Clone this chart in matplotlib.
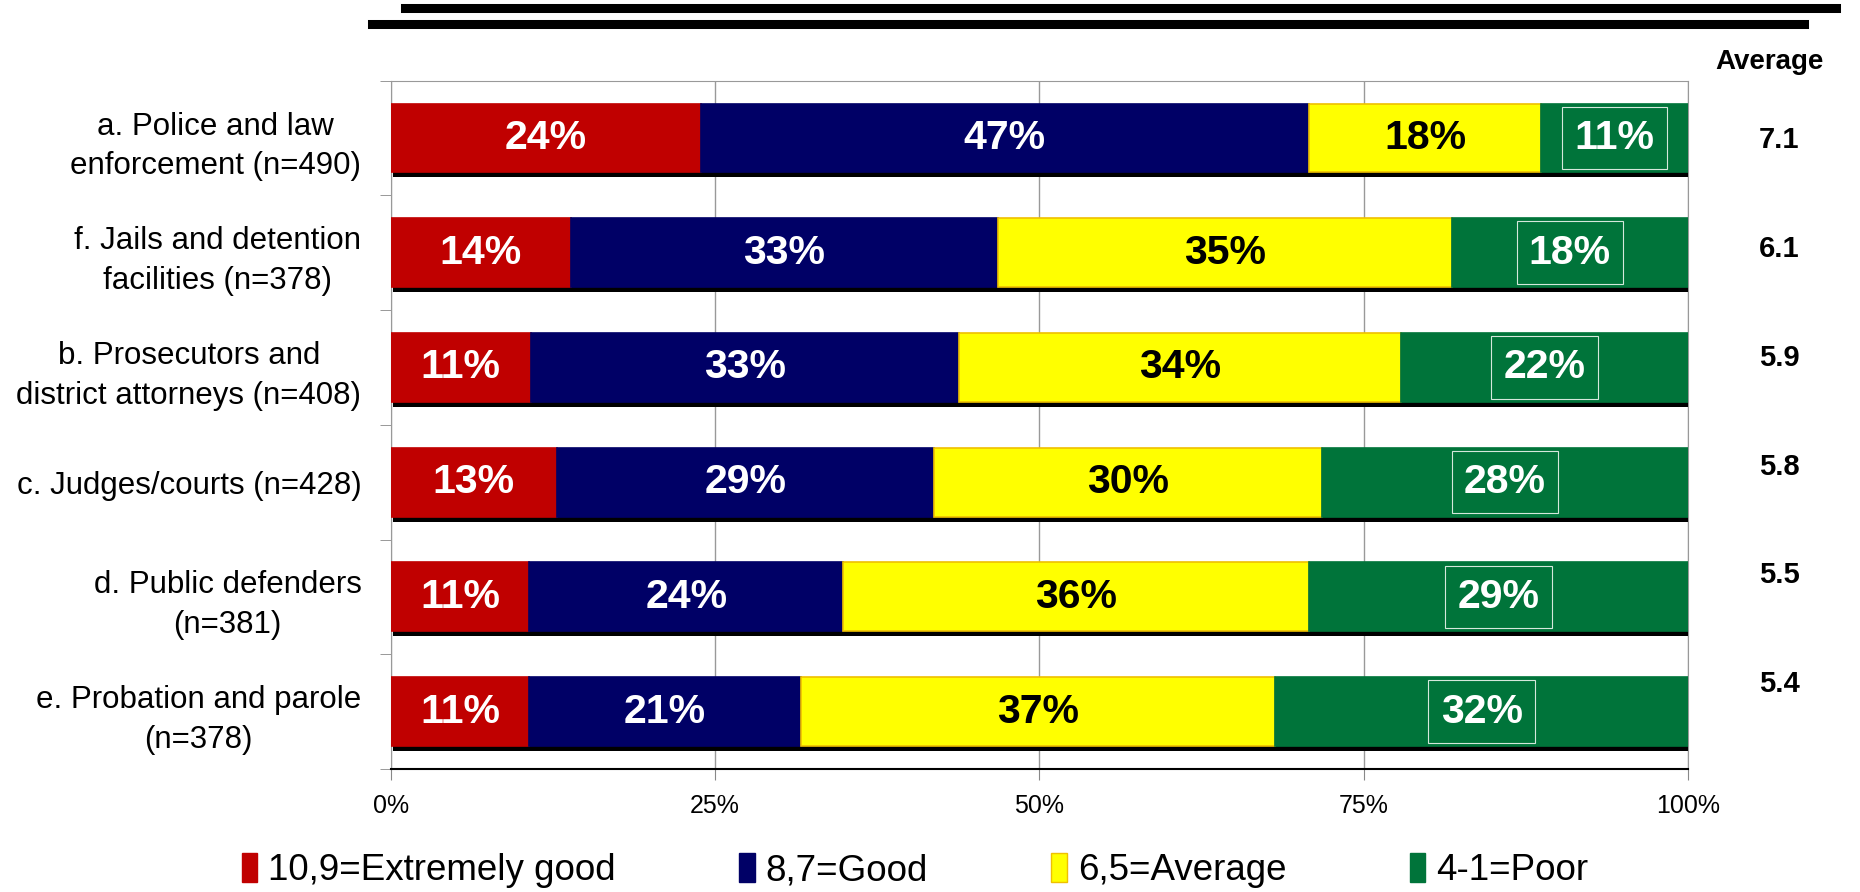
import matplotlib
matplotlib.use("Agg")
import matplotlib.pyplot as plt
import matplotlib.patheffects as pe
from matplotlib.lines import Line2D
from matplotlib.patches import Patch
import numpy as np

plt.rcParams['font.family'] = ['Liberation Sans', 'DejaVu Sans']

# categories, top to bottom
categories = ["a. Police and law\nenforcement (n=490)",
              "f. Jails and detention\nfacilities (n=378)",
              "b. Prosecutors and\ndistrict attorneys (n=408)",
              "c. Judges/courts (n=428)",
              "d. Public defenders\n(n=381)",
              "e. Probation and parole\n(n=378)"]

extremely_good = [23.9, 13.9, 10.8, 12.8, 10.7, 10.7]
good = [46.9, 32.9, 33.0, 29.1, 24.2, 20.9]
average = [17.9, 35.0, 34.1, 29.9, 35.9, 36.6]
poor = [11.3, 18.2, 22.1, 28.2, 29.2, 31.8]

avg_scores = ["7.1", "6.1", "5.9", "5.8", "5.5", "5.4"]

series_names = ["10,9=Extremely good", "8,7=Good", "6,5=Average", "4-1=Poor"]
colors = ["#C00000", "#000066", "#FFFF00", "#00743A"]
edge_colors = ["#C00000", "#000066", "#EFC000", "#00743A"]
text_colors = ["white", "white", "black", "white"]

fig = plt.figure(figsize=(18.6, 8.92), dpi=100)
ax = fig.add_axes([0.210, 0.138, 0.6975, 0.7715])

y = np.arange(len(categories))
left = np.zeros(len(categories))
shadow = [pe.SimplePatchShadow(offset=(2, -3.6), shadow_rgbFace='black', alpha=1.0), pe.Normal()]

for i, vals in enumerate([extremely_good, good, average, poor]):
    vals = np.array(vals)
    bars = ax.barh(y, vals, left=left, height=0.6, color=colors[i],
                   edgecolor=edge_colors[i], linewidth=1.2, zorder=3)
    for b in bars:
        b.set_path_effects(shadow)
    for j in range(len(categories)):
        kw = {}
        if i == 3:
            kw['bbox'] = dict(boxstyle='square,pad=0.3', fc='none', ec='#D5E8DC', lw=0.8)
        ax.text(left[j] + vals[j] / 2, y[j], "%d%%" % round(vals[j]),
                ha='center', va='center', color=text_colors[i],
                fontsize=29.5, fontweight='bold', zorder=5, **kw)
    left = left + vals

ax.set_xlim(0, 100)
ax.set_ylim(len(categories) - 0.5, -0.5)
ax.set_xticks([0, 25, 50, 75, 100])
ax.set_xticklabels(["0%", "25%", "50%", "75%", "100%"], fontsize=18)
ax.tick_params(axis='x', length=8, color='#888888', pad=10)
ax.set_yticks(y)
ax.set_yticklabels(categories, fontsize=22.5, multialignment='center', linespacing=1.42)
ax.tick_params(axis='y', length=0, pad=21)
ax.set_yticks(np.arange(len(categories) + 1) - 0.5, minor=True)
ax.tick_params(axis='y', which='minor', length=8, color='#888888')
ax.grid(axis='x', color='#999999', linewidth=1, zorder=0)
ax.set_axisbelow(True)
for s in ['top', 'right', 'left']:
    ax.spines[s].set_color('#999999')
ax.spines['bottom'].set_color('black')
ax.spines['bottom'].set_linewidth(1.5)

# average column
fig.text(0.9515, 0.931, "Average", ha='center', va='center', fontsize=20, fontweight='bold')
for k, s in enumerate(avg_scores):
    fig.text(0.9565, 0.843 - k * 0.122, s, ha='center', va='center',
             fontsize=21, fontweight='bold')

# two thick rules at the top
fig.add_artist(Line2D([405 / 1860, 1836 / 1860], [1 - 8 / 892, 1 - 8 / 892],
                      color='black', lw=6.5, transform=fig.transFigure))
fig.add_artist(Line2D([372 / 1860, 1804 / 1860], [1 - 24 / 892, 1 - 24 / 892],
                      color='black', lw=6.5, transform=fig.transFigure))

handles = [Patch(facecolor=c, edgecolor=e) for c, e in zip(colors, edge_colors)]
fig.legend(handles, series_names, loc='center', bbox_to_anchor=(0.492, 0.024),
           ncol=4, frameon=False, fontsize=26.5, handlelength=0.42, handleheight=0.85,
           handletextpad=0.3, columnspacing=3.35)

fig.savefig("out.png", dpi=100)
